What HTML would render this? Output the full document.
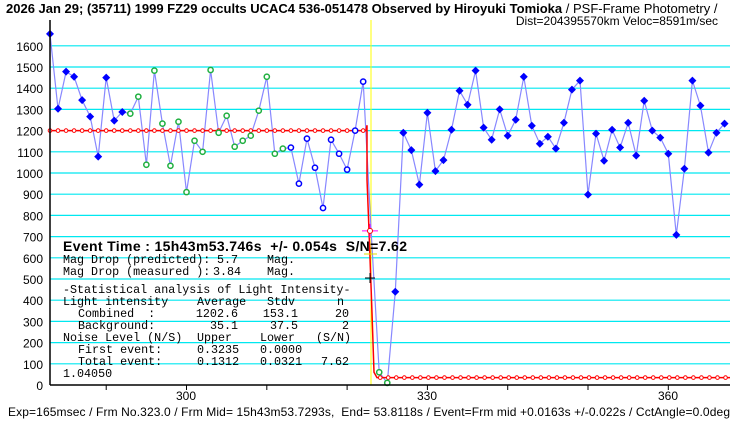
<!DOCTYPE html>
<html><head><meta charset="utf-8"><style>
body{margin:0;background:#fff;width:740px;height:425px;overflow:hidden}
svg text{font-family:"Liberation Sans","Noto Sans CJK JP",sans-serif;white-space:pre}
svg text.m{font-family:"Liberation Mono","Noto Sans CJK JP",monospace;font-size:11.7px}
</style></head><body>
<svg id="s" width="740" height="425" xmlns="http://www.w3.org/2000/svg" xml:space="preserve">
<g id="grid"></g>
<line x1="371" y1="20" x2="371" y2="385" stroke="#ffff00" stroke-width="1"/>
<g id="data"></g>
<line x1="50" y1="20" x2="50" y2="385" stroke="#000" stroke-width="1.5"/>
<line x1="50" y1="385" x2="730" y2="385" stroke="#000" stroke-width="1.5"/>
<g font-size="12" text-anchor="middle">
<text x="186" y="400">300</text><text x="427" y="400">330</text><text x="668" y="400">360</text>
</g>
<text x="6" y="13" font-size="13" font-weight="bold">2026 Jan 29; (35711) 1999 FZ29 occults UCAC4 536-051478 Observed by Hiroyuki Tomioka <tspan font-weight="normal">/ PSF-Frame Photometry /</tspan></text>
<text x="718" y="25" font-size="12" text-anchor="end">Dist=204395570km Veloc=8591m/sec</text>
<text x="8" y="416" font-size="12" textLength="722" lengthAdjust="spacing">Exp=165msec / Frm No.323.0 / Frm Mid= 15h43m53.7293s,  End= 53.8118s / Event=Frm mid +0.0163s +/-0.022s / CctAngle=0.0deg</text>
<text x="63" y="251" font-size="14" font-weight="bold" textLength="344" lengthAdjust="spacing">Event Time : 15h43m53.746s  +/- 0.054s  S/N=7.62</text>
<text class="m" x="63" y="263">Mag Drop (predicted):</text><text class="m" x="217" y="263">5.7</text><text class="m" x="267" y="263">Mag.</text>
<text class="m" x="63" y="275">Mag Drop (measured ):</text><text class="m" x="213" y="275">3.84</text><text class="m" x="267" y="275">Mag.</text>
<text class="m" x="63" y="293">-Statistical analysis of Light Intensity-</text>
<text class="m" x="63" y="305">Light intensity</text><text class="m" x="197" y="305">Average</text><text class="m" x="267" y="305">Stdv</text><text class="m" x="337" y="305">n</text>
<text class="m" x="78" y="317">Combined  :</text><text class="m" x="238" y="317" text-anchor="end">1202.6</text><text class="m" x="298" y="317" text-anchor="end">153.1</text><text class="m" x="349" y="317" text-anchor="end">20</text>
<text class="m" x="78" y="329">Background:</text><text class="m" x="238" y="329" text-anchor="end">35.1</text><text class="m" x="298" y="329" text-anchor="end">37.5</text><text class="m" x="349" y="329" text-anchor="end">2</text>
<text class="m" x="63" y="341">Noise Level (N/S)</text><text class="m" x="197" y="341">Upper</text><text class="m" x="260" y="341">Lower</text><text class="m" x="316" y="341">(S/N)</text>
<text class="m" x="78" y="353">First event:</text><text class="m" x="197" y="353">0.3235</text><text class="m" x="260" y="353">0.0000</text>
<text class="m" x="78" y="365">Total event:</text><text class="m" x="197" y="365">0.1312</text><text class="m" x="260" y="365">0.0321</text><text class="m" x="349" y="365" text-anchor="end">7.62</text>
<text class="m" x="63" y="377">1.04050</text>
</svg>
<script>
const NS="http://www.w3.org/2000/svg";
const Y=v=>385-v*0.212, X=f=>50+(f-283)*8.03;
function el(p,t,a){const e=document.createElementNS(NS,t);for(const k in a)e.setAttribute(k,a[k]);p.appendChild(e);return e;}
const g=document.getElementById('grid'),d=document.getElementById('data');
for(let v=100;v<=1600;v+=100){el(g,'line',{x1:50,x2:730,y1:Y(v),y2:Y(v),stroke:'#00e8f0','stroke-width':1.2});}
for(let v=0;v<=1600;v+=100){const t=el(g,'text',{x:43,y:Y(v)+5,'font-size':12,'text-anchor':'end'});t.textContent=v;}
for(let f=290;f<=370;f+=10){el(g,'line',{x1:X(f),x2:X(f),y1:385,y2:390,stroke:'#000'});}
const vals=[1656,1303,1478,1454,1344,1266,1077,1450,1247,1288,1280,1360,1039,1483,1233,1034,1242,910,1152,1100,1486,1190,1270,1124,1152,1176,1294,1454,1091,1115,1120,950,1162,1025,835,1157,1091,1016,1200,1431,720,60,10,440,
1190,1108,945,1284,1009,1061,1204,1388,1322,1483,1214,1157,1300,1176,1251,1454,1223,1138,1171,1115,1237,1393,1436,898,1186,1058,1204,1120,1237,1082,1341,1200,1167,1091,708,1020,1436,1318,1096,1190,1233];
let pts=vals.map((v,i)=>X(283+i).toFixed(1)+','+Y(v).toFixed(1)).join(' ');
el(d,'polyline',{points:pts,fill:'none',stroke:'#8888ff','stroke-width':1.2});
let rp=`50,${Y(1200)} 366,${Y(1200)} 367,${Y(1225)} 367,${Y(970)} 369,${Y(730)} 372,${Y(340)} 374,${Y(60)} 377,${Y(35)} 730,${Y(35)}`;
el(d,'polyline',{points:rp,fill:'none',stroke:'#ff0000','stroke-width':1.5});
for(let f=283;f<=322;f++)el(d,'circle',{cx:X(f),cy:Y(1200),r:1.8,fill:'#fff',stroke:'#ff0000','stroke-width':1});
for(let f=324;f<=367;f++)el(d,'circle',{cx:X(f)+1,cy:Y(35),r:1.8,fill:'#fff',stroke:'#ff0000','stroke-width':1});
el(d,'line',{x1:362,x2:378,y1:Y(727),y2:Y(727),stroke:'#ff00ff'});
el(d,'line',{x1:370,x2:370,y1:Y(727)-7,y2:Y(727)+7,stroke:'#ff00ff'});
el(d,'circle',{cx:370,cy:Y(727),r:2.5,fill:'#fff',stroke:'#ff0000'});
el(d,'line',{x1:364,x2:377,y1:254,y2:254,stroke:'#e0e000'});
el(d,'line',{x1:365,x2:375,y1:278,y2:278,stroke:'#000'});
el(d,'line',{x1:370,x2:370,y1:273,y2:283,stroke:'#000'});
vals.forEach((v,i)=>{const f=283+i,x=X(f),y=Y(v);
 if((f>=293&&f<=312)||f==324||f==325) el(d,'circle',{cx:x,cy:y,r:2.6,fill:'#fff',stroke:'#20b040','stroke-width':1.5});
 else if(f>=313&&f<=322) el(d,'circle',{cx:x,cy:y,r:2.6,fill:'#fff',stroke:'#0000ff','stroke-width':1.5});
 else if(f!=323) el(d,'polygon',{points:`${x},${y-4} ${x+4},${y} ${x},${y+4} ${x-4},${y}`,fill:'#0000ff'});
});
</script>
</body></html>
